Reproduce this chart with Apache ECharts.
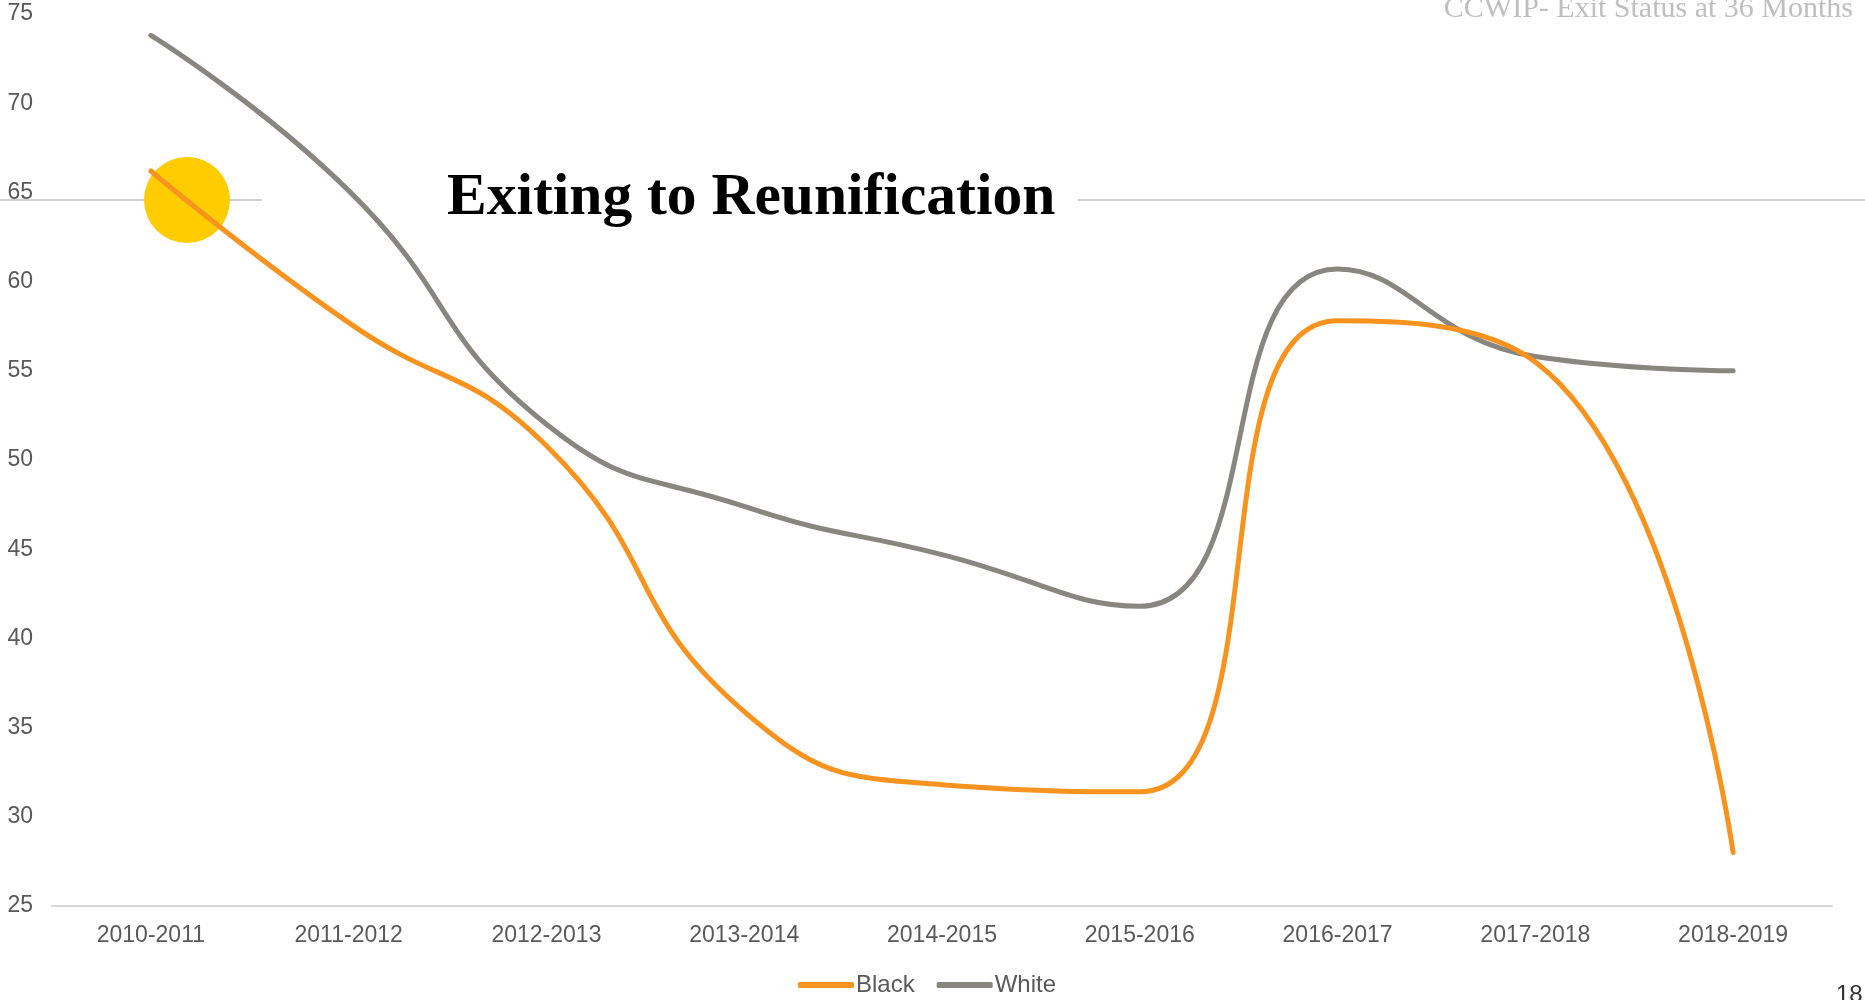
<!DOCTYPE html>
<html>
<head>
<meta charset="utf-8">
<script src="https://cdn.jsdelivr.net/npm/echarts@6/dist/echarts.min.js"></script>
<style>
html,body{margin:0;padding:0;background:#fff;}
#chart{width:1865px;height:1000px;}
</style>
</head>
<body>
<div id="chart"></div>
<script>
const categories = ['2010-2011','2011-2012','2012-2013','2013-2014','2014-2015','2015-2016','2016-2017','2017-2018','2018-2019'];
const blackValues = [66.2, 57.7, 50.8, 35.9, 31.8, 31.4, 57.8, 55.5, 28.0];
const whiteValues = [73.8, 65.1, 52.0, 47.4, 44.7, 41.8, 60.7, 55.8, 55.0];
const seriesNames = ['Black', 'White'];
const titleText = 'Exiting to Reunification';
const headerText = 'CCWIP- Exit Status at 36 Months';
const pageNumber = '18';

const chart = echarts.init(document.getElementById('chart'), null, {renderer: 'canvas'});
const labelFont = '"Liberation Sans", Arial, sans-serif';
chart.setOption({
  animation: false,
  backgroundColor: '#ffffff',
  grid: {left: 52, right: 33, top: 14, bottom: 94, containLabel: false},
  legend: {
    data: seriesNames,
    left: 793, top: 968,
    itemWidth: 56, itemHeight: 6, itemGap: 22,
    icon: 'roundRect',
    textStyle: {color: '#595959', fontSize: 24, fontFamily: labelFont, padding: [0,0,0,-3]}
  },
  xAxis: {
    type: 'category',
    data: categories,
    boundaryGap: true,
    axisLine: {show: true, lineStyle: {color: '#d9d9d9', width: 2}},
    axisTick: {show: false},
    splitLine: {show: false},
    axisLabel: {color: '#595959', fontSize: 23, fontFamily: labelFont, margin: 18, interval: 0}
  },
  yAxis: {
    type: 'value',
    min: 25, max: 75, interval: 5,
    axisLine: {show: false},
    axisTick: {show: false},
    splitLine: {show: false},
    axisLabel: {color: '#595959', fontSize: 23, fontFamily: labelFont, margin: 19}
  },
  graphic: [
    {type: 'line', z: 0, shape: {x1: 0, y1: 200, x2: 262, y2: 200}, style: {stroke: '#d0d0d0', lineWidth: 2}},
    {type: 'line', z: 0, shape: {x1: 1078, y1: 200, x2: 1865, y2: 200}, style: {stroke: '#d0d0d0', lineWidth: 2}},
    {type: 'circle', z: 0, shape: {cx: 187, cy: 200, r: 43}, style: {fill: '#FFCC00'}},
    {type: 'text', z: 10, left: 447, top: 169, style: {text: titleText, fill: '#000000', font: 'bold 59.5px "Liberation Serif", "Times New Roman", serif'}},
    {type: 'text', z: 10, right: 12, top: -6, style: {text: headerText, fill: '#bfbfbf', font: '30px "Liberation Serif", "Times New Roman", serif'}},
    {type: 'text', z: 10, left: 1836, top: 983, style: {text: pageNumber, fill: '#333333', font: '24px "Liberation Sans", Arial, sans-serif'}}
  ],
  series: [
    {
      name: seriesNames[0], type: 'line', data: blackValues, smooth: 0.5,
      symbol: 'none', showSymbol: false, z: 3,
      lineStyle: {color: '#F7931E', width: 5, cap: 'round'},
      itemStyle: {color: '#F7931E'}
    },
    {
      name: seriesNames[1], type: 'line', data: whiteValues, smooth: 0.5,
      symbol: 'none', showSymbol: false, z: 2,
      lineStyle: {color: '#898680', width: 5, cap: 'round'},
      itemStyle: {color: '#898680'}
    }
  ]
});
</script>
</body>
</html>
